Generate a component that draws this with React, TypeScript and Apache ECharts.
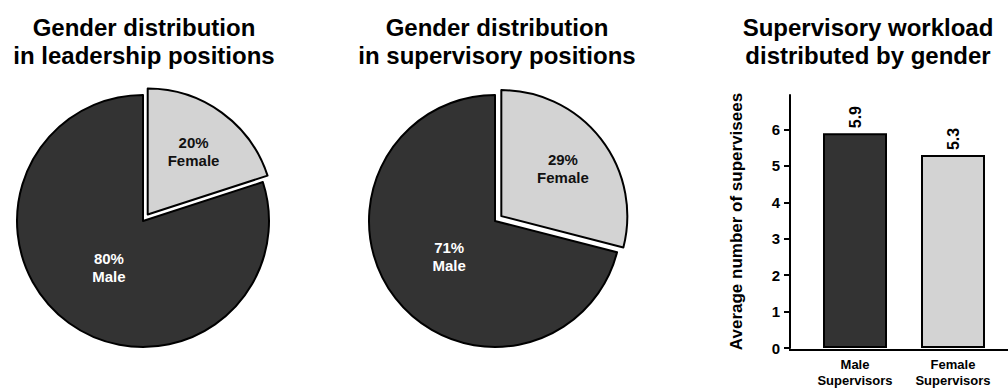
import React, { useEffect, useRef } from "react";
import * as echarts from "echarts";

const FONT = "'Liberation Sans', Arial, Helvetica, sans-serif";

const pieTitles = [
  "Gender distribution\nin leadership positions",
  "Gender distribution\nin supervisory positions",
];
const barTitle = "Supervisory workload\ndistributed by gender";

const genderNames = ["Female", "Male"];
const leadershipShare = [20, 80];
const supervisoryShare = [29, 71];

const barCategories = ["Male\nSupervisors", "Female\nSupervisors"];
const barValues = [5.9, 5.3];
const yTickValues = [0, 1, 2, 3, 4, 5, 6];
const yAxisName = "Average number of supervisees";

const DARK = "#333333";
const LIGHT = "#d3d3d3";

function pieSeries(values: number[], center: [number, number]) {
  const colors = [LIGHT, DARK];
  const base = {
    type: "pie",
    center,
    radius: 126,
    startAngle: 90,
    clockwise: true,
    selectedMode: "single",
    selectedOffset: 8,
    silent: true,
    emphasis: { disabled: true },
    labelLine: { show: false },
    label: { show: false },
    itemStyle: { borderColor: "#000", borderWidth: 2 },
    data: genderNames.map((n, i) => ({
      name: n,
      value: values[i],
      selected: i === 0,
      itemStyle: { color: colors[i] },
    })),
  };
  const labelSeries = (idx: number, r: number, color: string) => ({
    type: "pie",
    center,
    radius: r,
    startAngle: 90,
    clockwise: true,
    silent: true,
    z: 5,
    emphasis: { disabled: true },
    labelLine: { show: false },
    itemStyle: { color: "transparent", borderWidth: 0 },
    label: {
      show: true,
      position: "inside",
      formatter: "{c}%\n{b}",
      fontFamily: FONT,
      fontWeight: "bold",
      fontSize: 15,
      lineHeight: 18,
      color,
    },
    data: genderNames.map((n, i) => ({
      name: n,
      value: values[i],
      label: { show: i === idx },
    })),
  });
  return [base, labelSeries(0, 166, "#111"), labelSeries(1, 110, "#fff")];
}

export default function App() {
  const ref = useRef<HTMLDivElement>(null);
  useEffect(() => {
    document.body.style.margin = "0";
    const chart = echarts.init(ref.current!, null, { renderer: "svg" });
    const titleStyle = {
      fontFamily: FONT,
      fontWeight: "bold",
      fontSize: 24,
      lineHeight: 28,
      color: "#000",
    };
    chart.setOption({
      animation: false,
      backgroundColor: "#fff",
      title: [
        { text: pieTitles[0], left: 144, top: 13, textAlign: "center", padding: 0, textStyle: titleStyle },
        { text: pieTitles[1], left: 497, top: 13, textAlign: "center", padding: 0, textStyle: titleStyle },
        { text: barTitle, left: 868, top: 13, textAlign: "center", padding: 0, textStyle: titleStyle },
      ],
      grid: { left: 806, right: 6, top: 95, bottom: 38 },
      xAxis: {
        type: "category",
        data: barCategories,
        axisLine: { show: false },
        axisTick: { show: false },
        axisLabel: {
          fontFamily: FONT,
          fontWeight: "bold",
          fontSize: 13,
          lineHeight: 16,
          color: "#000",
          margin: 8,
        },
      },
      yAxis: {
        type: "value",
        min: 0,
        max: 6.95,
        offset: 16,
        name: yAxisName,
        nameLocation: "middle",
        nameGap: 45,
        nameTextStyle: { fontFamily: FONT, fontWeight: "bold", fontSize: 17, color: "#000" },
        splitLine: { show: false },
        axisLine: { show: true, lineStyle: { color: "#000", width: 2 } },
        axisTick: { show: true, length: 6, customValues: yTickValues, lineStyle: { color: "#000", width: 2 } },
        axisLabel: {
          customValues: yTickValues,
          fontFamily: FONT,
          fontWeight: "bold",
          fontSize: 15,
          color: "#000",
          margin: 10,
        },
      },
      graphic: [
        {
          type: "line",
          shape: { x1: 789, y1: 350, x2: 1008, y2: 350 },
          style: { stroke: "#000", lineWidth: 2 },
          z: 10,
        },
      ],
      series: [
        ...pieSeries(leadershipShare, [143, 221]),
        ...pieSeries(supervisoryShare, [495, 221]),
        {
          type: "bar",
          barWidth: 64,
          silent: true,
          itemStyle: { borderColor: "#000", borderWidth: 2 },
          label: {
            show: true,
            position: "top",
            rotate: 90,
            align: "left",
            verticalAlign: "middle",
            distance: 5,
            fontFamily: FONT,
            fontWeight: "bold",
            fontSize: 16,
            color: "#000",
          },
          data: barValues.map((v, i) => ({
            value: v,
            itemStyle: { color: i === 0 ? DARK : LIGHT },
          })),
        },
      ],
    });
    return () => chart.dispose();
  }, []);
  return <div ref={ref} style={{ width: 1008, height: 388 }} />;
}
